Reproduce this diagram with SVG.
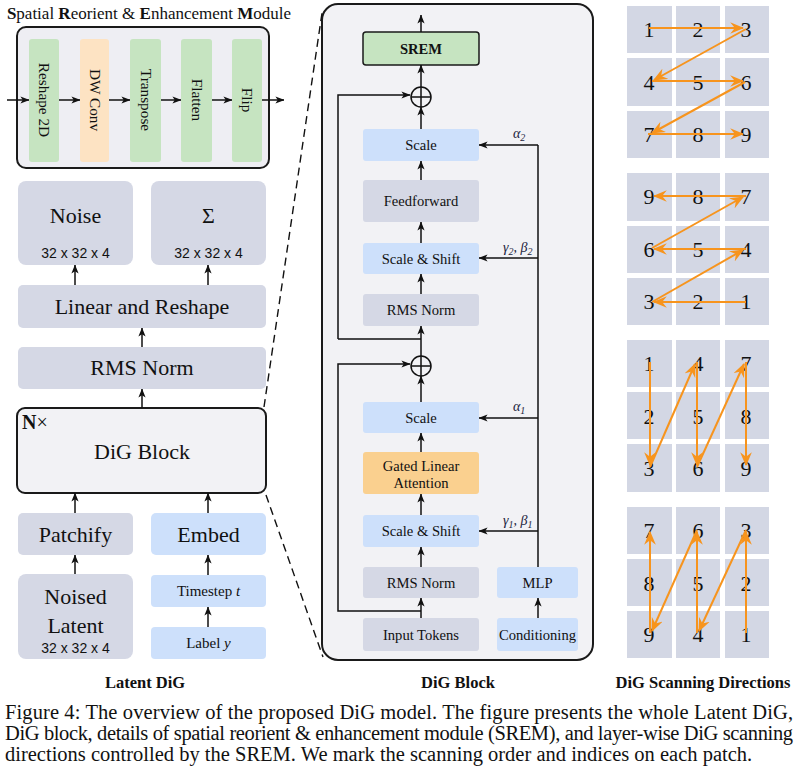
<svg xmlns="http://www.w3.org/2000/svg" width="796" height="769" viewBox="0 0 796 769">
<defs>
<style>
text{font-family:"Liberation Serif","Times New Roman",serif;fill:#111;}
.sans{font-family:"Liberation Sans",Arial,sans-serif;}
.gray{fill:#d5d8e5;}
.blue{fill:#cde0fb;}
.green{fill:#c6e4c1;}
.peach{fill:#fde3c3;}
.orange{fill:#fad08f;}
.cell{fill:#d3d7e4;}
.frame{fill:#f2f2f5;stroke:#1a1a1a;stroke-width:2;}
.c{text-anchor:middle;}
.l22{font-size:22px;}
.l14{font-size:14.6px;}
.v15{font-size:15.3px;}
.dim{font-size:14px;}
.ln{fill:none;stroke:#111;stroke-width:1.5;}
.ar{fill:none;stroke:#111;stroke-width:1.5;marker-end:url(#ah);}
.oa{fill:none;stroke:#f7941d;stroke-width:2;marker-end:url(#oh);}
.num{font-size:22px;text-anchor:middle;}
.math{font-style:italic;font-size:14px;fill:#1d2440;}
.dash{fill:none;stroke:#111;stroke-width:1.4;stroke-dasharray:8 5;}
.bt{font-size:16.5px;font-weight:bold;text-anchor:middle;}
</style>
<marker id="ah" viewBox="0 0 10 8" refX="9.5" refY="4" markerWidth="9" markerHeight="7.5" markerUnits="userSpaceOnUse" orient="auto">
<path d="M0,0 L10,4 L0,8 L2.5,4 z" fill="#111"/>
</marker>
<marker id="oh" viewBox="0 0 12 10" refX="11" refY="5" markerWidth="14" markerHeight="12" markerUnits="userSpaceOnUse" orient="auto">
<path d="M0,0 L12,5 L0,10 L4,5 z" fill="#f7941d"/>
</marker>
</defs>
<rect width="796" height="769" fill="#fff"/>

<!-- SREM module -->
<g id="srem-module">
<text x="149" y="19" class="c" style="font-size:17px"><tspan font-weight="bold">S</tspan>patial <tspan font-weight="bold">R</tspan>eorient &amp; <tspan font-weight="bold">E</tspan>nhancement <tspan font-weight="bold">M</tspan>odule</text>
<rect x="17" y="27" width="252" height="141" rx="9" fill="#eeeef3" stroke="#1a1a1a" stroke-width="2"/>
</g>
<g id="reshape2d"><rect x="29" y="39" width="30" height="123" rx="3" class="green"/><text transform="translate(44 100) rotate(90)" class="c v15" dy="5">Reshape 2D</text></g>
<g id="dwconv"><rect x="80" y="39" width="29" height="123" rx="3" class="peach"/><text transform="translate(94.5 100) rotate(90)" class="c v15" dy="5">DW Conv</text></g>
<g id="transpose"><rect x="130" y="39" width="31" height="123" rx="3" class="green"/><text transform="translate(145.5 100) rotate(90)" class="c v15" dy="5">Transpose</text></g>
<g id="flatten"><rect x="181" y="39" width="31" height="123" rx="3" class="green"/><text transform="translate(196.5 100) rotate(90)" class="c v15" dy="5">Flatten</text></g>
<g id="flip"><rect x="232" y="39" width="30" height="123" rx="3" class="green"/><text transform="translate(247 100) rotate(90)" class="c v15" dy="5">Flip</text></g>

<!-- Latent DiG column -->
<g id="noise"><rect x="18" y="181" width="115" height="84" rx="8" class="gray"/><text x="75.5" y="223" class="c l22">Noise</text><text x="75.5" y="258" class="c sans dim">32 x 32 x 4</text></g>
<g id="sigma"><rect x="151" y="181" width="115" height="84" rx="8" class="gray"/><text x="208.5" y="223" class="c l22">Σ</text><text x="208.5" y="258" class="c sans dim">32 x 32 x 4</text></g>
<g id="linear-reshape"><rect x="18" y="285" width="248" height="43" rx="5" class="gray"/><text x="142" y="314" class="c l22">Linear and Reshape</text></g>
<g id="rmsnorm-top"><rect x="18" y="347" width="248" height="42" rx="5" class="gray"/><text x="142" y="375" class="c l22">RMS Norm</text></g>
<g id="dig-block-small"><rect x="17" y="408" width="249" height="85" rx="8" class="frame"/><text x="22" y="429" style="font-size:20px"><tspan font-weight="bold">N</tspan>×</text><text x="142" y="459" class="c l22">DiG Block</text></g>
<g id="patchify"><rect x="18" y="513" width="115" height="42" rx="5" class="gray"/><text x="75.5" y="542" class="c l22">Patchify</text></g>
<g id="embed"><rect x="151" y="513" width="115" height="42" rx="5" class="blue"/><text x="208.5" y="542" class="c l22">Embed</text></g>
<g id="noised-latent"><rect x="18" y="574" width="115" height="85" rx="8" class="gray"/><text x="75.5" y="604" class="c l22">Noised</text><text x="75.5" y="633" class="c l22">Latent</text><text x="75.5" y="653" class="c sans dim">32 x 32 x 4</text></g>
<g id="timestep"><rect x="151" y="575" width="115" height="32" rx="4" class="blue"/><text x="208.5" y="596" class="c" style="font-size:15px">Timestep <tspan font-style="italic">t</tspan></text></g>
<g id="label"><rect x="151" y="627" width="115" height="32" rx="4" class="blue"/><text x="208.5" y="648" class="c" style="font-size:15px">Label <tspan font-style="italic">y</tspan></text></g>
<text x="145" y="688" class="bt">Latent DiG</text>

<!-- DiG Block detail -->
<g id="dig-block-frame"><rect x="322" y="4" width="271" height="656" rx="16" class="frame"/></g>
<g id="srem"><rect x="363" y="32" width="116" height="33" rx="3" class="green" stroke="#1a1a1a" stroke-width="1.5"/><text x="421" y="54" class="c l14" font-weight="bold">SREM</text></g>
<g id="oplus2"><circle cx="421" cy="97" r="10" fill="none" stroke="#111" stroke-width="1.5"/><path d="M411,97 H431 M421,87 V107" stroke="#111" stroke-width="1.5"/></g>
<g id="scale2"><rect x="363" y="129" width="116" height="32" rx="3" class="blue"/><text x="421" y="150" class="c l14">Scale</text></g>
<g id="feedforward"><rect x="363" y="180" width="116" height="42" rx="3" class="gray"/><text x="421" y="206" class="c l14">Feedforward</text></g>
<g id="scaleshift2"><rect x="363" y="243" width="116" height="31" rx="3" class="blue"/><text x="421" y="264" class="c l14">Scale &amp; Shift</text></g>
<g id="rmsnorm2"><rect x="363" y="294" width="116" height="32" rx="3" class="gray"/><text x="421" y="315" class="c l14">RMS Norm</text></g>
<g id="oplus1"><circle cx="421" cy="366" r="10" fill="none" stroke="#111" stroke-width="1.5"/><path d="M411,366 H431 M421,356 V376" stroke="#111" stroke-width="1.5"/></g>
<g id="scale1"><rect x="363" y="402" width="116" height="31" rx="3" class="blue"/><text x="421" y="423" class="c l14">Scale</text></g>
<g id="gla"><rect x="363" y="452" width="116" height="42" rx="3" class="orange"/><text x="421" y="471" class="c l14">Gated Linear</text><text x="421" y="488" class="c l14">Attention</text></g>
<g id="scaleshift1"><rect x="363" y="515" width="116" height="32" rx="3" class="blue"/><text x="421" y="536" class="c l14">Scale &amp; Shift</text></g>
<g id="rmsnorm1"><rect x="363" y="567" width="116" height="31" rx="3" class="gray"/><text x="421" y="588" class="c l14">RMS Norm</text></g>
<g id="input-tokens"><rect x="363" y="618" width="116" height="33" rx="3" class="gray"/><text x="421" y="640" class="c l14">Input Tokens</text></g>
<g id="mlp"><rect x="497" y="567" width="81" height="31" rx="3" class="blue"/><text x="537.5" y="588" class="c l14">MLP</text></g>
<g id="conditioning"><rect x="497" y="618" width="81" height="33" rx="3" class="blue"/><text x="537.5" y="640" class="c l14">Conditioning</text></g>
<text x="458" y="688" class="bt">DiG Block</text>

<!-- Scanning grids -->
<g id="grid1">
<rect x="627" y="6" width="45" height="47" class="cell"/><rect x="676" y="6" width="44" height="47" class="cell"/><rect x="725" y="6" width="44" height="47" class="cell"/>
<rect x="627" y="58" width="45" height="48" class="cell"/><rect x="676" y="58" width="44" height="48" class="cell"/><rect x="725" y="58" width="44" height="48" class="cell"/>
<rect x="627" y="111" width="45" height="47" class="cell"/><rect x="676" y="111" width="44" height="47" class="cell"/><rect x="725" y="111" width="44" height="47" class="cell"/>
<text x="649" y="37" class="num">1</text><text x="698" y="37" class="num">2</text><text x="746" y="37" class="num">3</text>
<text x="649" y="90" class="num">4</text><text x="698" y="90" class="num">5</text><text x="746" y="90" class="num">6</text>
<text x="649" y="142" class="num">7</text><text x="698" y="142" class="num">8</text><text x="746" y="142" class="num">9</text>
</g>
<g id="grid2">
<rect x="627" y="173" width="45" height="48" class="cell"/><rect x="676" y="173" width="44" height="48" class="cell"/><rect x="725" y="173" width="44" height="48" class="cell"/>
<rect x="627" y="226" width="45" height="47" class="cell"/><rect x="676" y="226" width="44" height="47" class="cell"/><rect x="725" y="226" width="44" height="47" class="cell"/>
<rect x="627" y="278" width="45" height="47" class="cell"/><rect x="676" y="278" width="44" height="47" class="cell"/><rect x="725" y="278" width="44" height="47" class="cell"/>
<text x="649" y="204" class="num">9</text><text x="698" y="204" class="num">8</text><text x="746" y="204" class="num">7</text>
<text x="649" y="257" class="num">6</text><text x="698" y="257" class="num">5</text><text x="746" y="257" class="num">4</text>
<text x="649" y="309" class="num">3</text><text x="698" y="309" class="num">2</text><text x="746" y="309" class="num">1</text>
</g>
<g id="grid3">
<rect x="627" y="340" width="45" height="47" class="cell"/><rect x="676" y="340" width="44" height="47" class="cell"/><rect x="725" y="340" width="44" height="47" class="cell"/>
<rect x="627" y="392" width="45" height="47" class="cell"/><rect x="676" y="392" width="44" height="47" class="cell"/><rect x="725" y="392" width="44" height="47" class="cell"/>
<rect x="627" y="444" width="45" height="48" class="cell"/><rect x="676" y="444" width="44" height="48" class="cell"/><rect x="725" y="444" width="44" height="48" class="cell"/>
<text x="649" y="371" class="num">1</text><text x="698" y="371" class="num">4</text><text x="746" y="371" class="num">7</text>
<text x="649" y="424" class="num">2</text><text x="698" y="424" class="num">5</text><text x="746" y="424" class="num">8</text>
<text x="649" y="476" class="num">3</text><text x="698" y="476" class="num">6</text><text x="746" y="476" class="num">9</text>
</g>
<g id="grid4">
<rect x="627" y="507" width="45" height="47" class="cell"/><rect x="676" y="507" width="44" height="47" class="cell"/><rect x="725" y="507" width="44" height="47" class="cell"/>
<rect x="627" y="559" width="45" height="47" class="cell"/><rect x="676" y="559" width="44" height="47" class="cell"/><rect x="725" y="559" width="44" height="47" class="cell"/>
<rect x="627" y="611" width="45" height="47" class="cell"/><rect x="676" y="611" width="44" height="47" class="cell"/><rect x="725" y="611" width="44" height="47" class="cell"/>
<text x="649" y="538" class="num">7</text><text x="698" y="538" class="num">6</text><text x="746" y="538" class="num">3</text>
<text x="649" y="591" class="num">8</text><text x="698" y="591" class="num">5</text><text x="746" y="591" class="num">2</text>
<text x="649" y="642" class="num">9</text><text x="698" y="642" class="num">4</text><text x="746" y="642" class="num">1</text>
</g>
<text x="703" y="688" class="bt">DiG Scanning Directions</text>

<!-- Connectors -->
<g id="connectors">
<path class="ar" d="M7,100 H29"/>
<path class="ar" d="M59,100 H80"/>
<path class="ar" d="M109,100 H130"/>
<path class="ar" d="M161,100 H181"/>
<path class="ar" d="M212,100 H232"/>
<path class="ar" d="M262,100 H284"/>
<path class="ar" d="M75,285 V265"/>
<path class="ar" d="M208,285 V265"/>
<path class="ar" d="M142,347 V328"/>
<path class="ar" d="M142,408 V389"/>
<path class="ar" d="M75,513 V493"/>
<path class="ar" d="M208,513 V493"/>
<path class="ar" d="M75,574 V555"/>
<path class="ar" d="M208,575 V555"/>
<path class="ar" d="M208,627 V607"/>
<path class="dash" d="M264,407 L322,13"/>
<path class="dash" d="M266,495 L323,657"/>
<path class="ar" d="M421,32 V15"/>
<path class="ar" d="M421,87 V65"/>
<path class="ar" d="M421,129 V107"/>
<path class="ar" d="M421,180 V161"/>
<path class="ar" d="M421,243 V222"/>
<path class="ar" d="M421,294 V274"/>
<path class="ar" d="M421,356 V326"/>
<path class="ar" d="M338,339 H421 M338,339 V95 H410"/>
<path class="ar" d="M421,402 V376"/>
<path class="ar" d="M421,452 V433"/>
<path class="ar" d="M421,515 V494"/>
<path class="ar" d="M421,567 V547"/>
<path class="ar" d="M421,618 V598"/>
<path class="ar" d="M421,611 H338 V364 H410"/>
<path class="ar" d="M538,618 V598"/>
<path class="ln" d="M538,567 V145"/>
<path class="ar" d="M538,145 H479"/>
<path class="ar" d="M538,258 H479"/>
<path class="ar" d="M538,418 H479"/>
<path class="ar" d="M538,531 H479"/>
<text x="513" y="138" class="math">α<tspan font-size="10" dy="3">2</tspan></text>
<text x="503" y="252" class="math">γ<tspan font-size="10" dy="3">2</tspan><tspan dy="-3">, β</tspan><tspan font-size="10" dy="3">2</tspan></text>
<text x="513" y="411" class="math">α<tspan font-size="10" dy="3">1</tspan></text>
<text x="503" y="525" class="math">γ<tspan font-size="10" dy="3">1</tspan><tspan dy="-3">, β</tspan><tspan font-size="10" dy="3">1</tspan></text>
<path class="oa" d="M649,28 H743"/>
<path class="oa" d="M746,29 L654,80"/>
<path class="oa" d="M652,81 H743"/>
<path class="oa" d="M745,82 L652,133"/>
<path class="oa" d="M648,134 H743"/>
<path class="oa" d="M746,302 H654"/>
<path class="oa" d="M652,302 L743,250"/>
<path class="oa" d="M746,249 H654"/>
<path class="oa" d="M652,248 L743,197"/>
<path class="oa" d="M746,196 H654"/>
<path class="oa" d="M650,362 V465"/>
<path class="oa" d="M650,467 L695,364"/>
<path class="oa" d="M697,362 V465"/>
<path class="oa" d="M697,467 L744,364"/>
<path class="oa" d="M746,362 V465"/>
<path class="oa" d="M746,633 V532"/>
<path class="oa" d="M746,530 L699,631"/>
<path class="oa" d="M697,633 V532"/>
<path class="oa" d="M697,530 L652,631"/>
<path class="oa" d="M650,633 V532"/>
</g>

<!-- Caption -->
<g id="caption" style="font-size:20.5px">
<text x="5" y="719" textLength="788" lengthAdjust="spacing">Figure 4: The overview of the proposed DiG model. The figure presents the whole Latent DiG,</text>
<text x="5" y="740" textLength="788" lengthAdjust="spacing">DiG block, details of spatial reorient &amp; enhancement module (SREM), and layer-wise DiG scanning</text>
<text x="5" y="761">directions controlled by the SREM. We mark the scanning order and indices on each patch.</text>
</g>
</svg>
